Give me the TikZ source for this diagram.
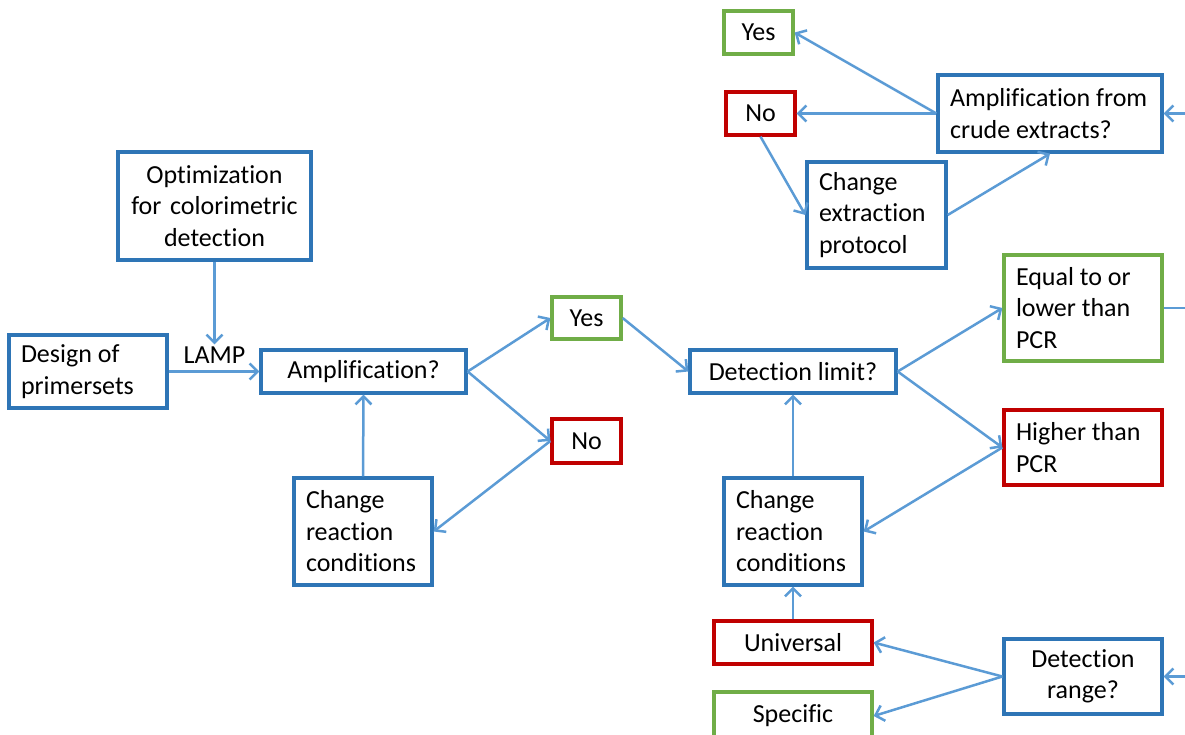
\documentclass[tikz,border=0pt]{standalone}
\usepackage{fontspec}
\setmainfont[Ligatures=NoCommon]{Carlito}
\usetikzlibrary{arrows.meta}

\definecolor{boxblue}{RGB}{46,117,182}
\definecolor{boxgreen}{RGB}{112,173,71}
\definecolor{boxred}{RGB}{192,0,0}
\definecolor{flowblue}{RGB}{91,155,213}

\tikzset{
  box/.style={rectangle,line width=3.3pt,fill=white,inner sep=0pt,
    font=\fontsize{26}{31.5}\selectfont},
  bluebox/.style={box,draw=boxblue},
  greenbox/.style={box,draw=boxgreen},
  redbox/.style={box,draw=boxred},
  flow/.style={draw=flowblue,line width=2.5pt,-{Straight Barb[length=8pt,width=16pt]}},
  link/.style={draw=flowblue,line width=2.5pt}
}

\begin{document}
\begin{tikzpicture}[x=1pt,y=-1pt]
\clip (0,0) rectangle (1185,735);
\useasboundingbox (0,0) rectangle (1185,735);

% left part
\node[bluebox,minimum width=193,minimum height=108,text width=180,align=center] (opt) at (214.5,206) {Optimization\\for colorimetric\\detection};
\node[bluebox,minimum width=158,minimum height=73,text width=134,align=flush left] (design) at (88,371.5) {Design of\\primersets};
\node[font=\fontsize{26}{31.5}\selectfont,inner sep=2pt] (lamp) at (214.5,355) {LAMP};
\node[bluebox,minimum width=205,minimum height=43,align=center] (amp) at (363.5,371.5) {Amplification?};
\node[greenbox,minimum width=69,minimum height=42,align=center] (yesA) at (586.5,318) {Yes};
\node[redbox,minimum width=69,minimum height=44,align=center] (noA) at (586.5,441) {No};
\node[bluebox,minimum width=138,minimum height=107,text width=114,align=flush left] (condA) at (363,531.5) {Change\\reaction\\conditions};

% middle part
\node[bluebox,minimum width=206,minimum height=43,align=center] (limit) at (793,371.5) {Detection limit?};
\node[greenbox,minimum width=158,minimum height=106,text width=134,align=flush left] (equal) at (1083,308) {Equal to or\\lower than\\PCR};
\node[redbox,minimum width=158,minimum height=75,text width=134,align=flush left] (higher) at (1083,447.5) {Higher than\\PCR};
\node[bluebox,minimum width=138,minimum height=107,text width=114,align=flush left] (condB) at (793,531.5) {Change\\reaction\\conditions};
\node[redbox,minimum width=158,minimum height=43,align=center] (univ) at (793,642.5) {Universal};
\node[greenbox,minimum width=158,minimum height=48,align=center] (spec) at (793,716) {Specific};
\node[bluebox,minimum width=158,minimum height=75,text width=134,align=center] (range) at (1083,676.5) {Detection\\range?};

% top part
\node[greenbox,minimum width=69,minimum height=43,align=center] (yesB) at (758.5,32.5) {Yes};
\node[redbox,minimum width=69,minimum height=43,align=center] (noB) at (760.5,113.5) {No};
\node[bluebox,minimum width=224,minimum height=77,text width=200,align=flush left] (crude) at (1050,113.5) {Amplification from\\crude extracts?};
\node[bluebox,minimum width=139,minimum height=106,text width=115,align=flush left] (extract) at (876.5,215) {Change\\extraction\\protocol};

\coordinate (inCrude) at (1200,113.5);
\coordinate (outEqual) at (1200,308);
\coordinate (inRange) at (1200,676.5);

\draw[flow] (opt.south) -- (lamp.north);
\draw[flow] (design.east) -- (amp.west);
\draw[flow] (amp.east) -- (yesA.west);
\draw[flow] (amp.east) -- (noA.west);
\draw[flow] (noA.west) -- (condA.east);
\draw[flow] (condA.north) -- (amp.south);
\draw[flow] (yesA.east) -- (limit.west);
\draw[flow] (limit.east) -- (equal.west);
\draw[flow] (limit.east) -- (higher.west);
\draw[flow] (higher.west) -- (condB.east);
\draw[flow] (condB.north) -- (limit.south);
\draw[flow] (univ.north) -- (condB.south);
\draw[flow] (range.west) -- (univ.east);
\draw[flow] (range.west) -- (spec.east);
\draw[flow] (inRange) -- (range.east);
\draw[link] (equal.east) -- (outEqual);
\draw[flow] (inCrude) -- (crude.east);
\draw[flow] (crude.west) -- (yesB.east);
\draw[flow] (crude.west) -- (noB.east);
\draw[flow] (noB.south) -- (extract.west);
\draw[flow] (extract.east) -- (crude.south);

\end{tikzpicture}
\end{document}
